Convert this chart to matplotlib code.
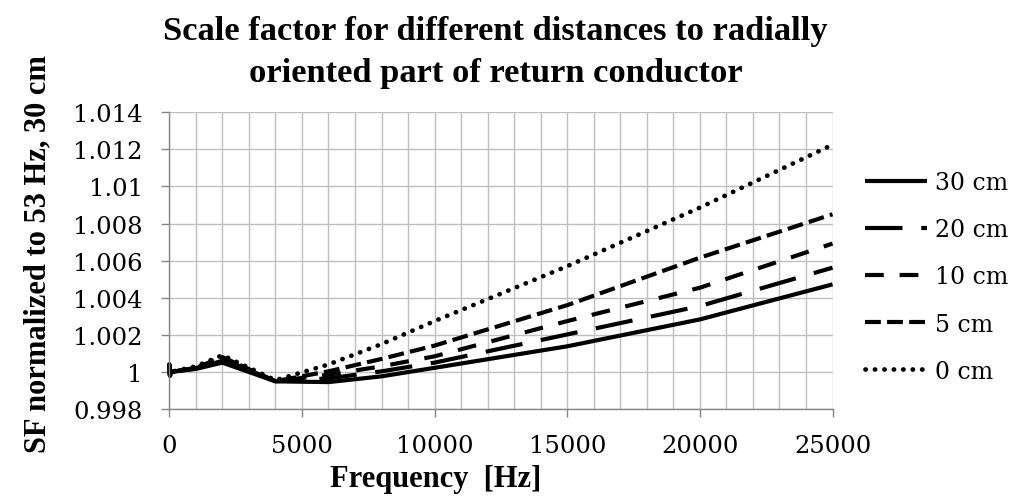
import matplotlib
matplotlib.use("Agg")
import matplotlib.pyplot as plt
from matplotlib.ticker import MultipleLocator, FuncFormatter, FixedLocator

# ---- data ----
freq = [0, 25, 53, 1000, 2000, 4000, 6000, 8000, 10000, 15000, 20000, 25000]
sf_30cm = [1.0004, 0.9998, 1.0, 1.00016, 1.0005, 0.99949, 0.99945, 0.99976, 1.00022, 1.00138, 1.00283, 1.00472]
sf_20cm = [1.0004, 0.9998, 1.0, 1.00018, 1.0006, 0.9995, 0.99965, 1.00003, 1.0005, 1.00202, 1.00355, 1.00562]
sf_10cm = [1.0004, 0.9998, 1.0, 1.0002, 1.0007, 0.9995, 0.99985, 1.0003, 1.00084, 1.00274, 1.00454, 1.00692]
sf_5cm = [1.0004, 0.9998, 1.0, 1.00022, 1.0008, 0.9995, 1.00003, 1.0007, 1.00142, 1.0036, 1.00616, 1.0085]
sf_0cm = [1.0004, 0.9998, 1.0, 1.0003, 1.0009, 0.99955, 1.0004, 1.0015, 1.00274, 1.0057, 1.00886, 1.01225]
series_labels = ["30 cm", "20 cm", "10 cm", "5 cm", "0 cm"]
x_ticks = [0, 5000, 10000, 15000, 20000, 25000]
y_ticks = [0.998, 1.0, 1.002, 1.004, 1.006, 1.008, 1.01, 1.012, 1.014]

title_line1 = "Scale factor for different distances to radially"
title_line2 = "oriented part of return conductor"
x_label = "Frequency  [Hz]"
y_label = "SF normalized to 53 Hz, 30 cm"

# ---- styling ----
tick_font = "DejaVu Serif"
label_font = "Liberation Serif"
grid_col = "#BFBFBF"
axis_col = "#868686"
lw = 3.0
styles = [
    dict(linestyle="-", solid_capstyle="butt", lw=lw),
    dict(linestyle=(0, (9, 4.5)), lw=lw),
    dict(linestyle=(0, (4.5, 3.8)), lw=lw),
    dict(linestyle=(0, (3.8, 1.5)), lw=lw),
    dict(linestyle=(0, (0.05, 1.95)), dash_capstyle="round", lw=3.4),
]

fig = plt.figure(figsize=(10.09, 5.02), dpi=100)
ax = fig.add_axes([0.1678, 0.1833, 0.6573, 0.5910])

all_series = [sf_30cm, sf_20cm, sf_10cm, sf_5cm, sf_0cm]
handles = []
for vals, lab, st in zip(all_series, series_labels, styles):
    h, = ax.plot(freq, vals, color="black", label=lab,
                 solid_joinstyle="round", clip_on=False, **st)
    handles.append(h)

ax.set_xlim(0, 25000)
ax.set_ylim(0.998, 1.014)
ax.xaxis.set_major_locator(FixedLocator(x_ticks))
ax.xaxis.set_minor_locator(MultipleLocator(1000))
ax.yaxis.set_major_locator(FixedLocator(y_ticks))
ax.xaxis.set_major_formatter(FuncFormatter(lambda v, p: f"{int(round(v))}"))
ax.yaxis.set_major_formatter(FuncFormatter(lambda v, p: f"{round(v, 3):g}"))

ax.grid(True, which="major", axis="y", color=grid_col, lw=1.0)
ax.grid(True, which="both", axis="x", color=grid_col, lw=1.0)
ax.set_axisbelow(True)

for s in ["top", "right"]:
    ax.spines[s].set_visible(False)
for s in ["left", "bottom"]:
    ax.spines[s].set_color(axis_col)
    ax.spines[s].set_linewidth(1.0)

ax.tick_params(axis="both", which="major", direction="out", length=6,
               width=1.0, color=axis_col, labelsize=17.5, labelcolor="black")
ax.tick_params(axis="y", which="major", pad=13)
ax.tick_params(axis="x", which="major", pad=12)
ax.tick_params(axis="x", which="minor", length=0)
for t in ax.get_xticklabels() + ax.get_yticklabels():
    t.set_fontfamily(tick_font)

fig.text(0.491, 1 - 40 / 502, title_line1, ha="center", va="baseline",
         fontsize=24.8, fontweight="bold", family=label_font)
fig.text(0.491, 1 - 82 / 502, title_line2, ha="center", va="baseline",
         fontsize=24.8, fontweight="bold", family=label_font)

fig.text(436 / 1009, 1 - 487 / 502, x_label, ha="center", va="baseline",
         fontsize=22, fontweight="bold", family=label_font)
fig.text(45 / 1009, 1 - 254 / 502, y_label, ha="center", va="baseline",
         rotation=90, rotation_mode="anchor",
         fontsize=22, fontweight="bold", family=label_font)

fig.legend(handles=handles, loc="center left", bbox_to_anchor=(865 / 1009, 1 - 278 / 502),
           frameon=False, borderpad=0, borderaxespad=0, handlelength=2.63,
           handletextpad=0.34, labelspacing=1.02,
           prop=dict(family=tick_font, size=17))

fig.savefig("out.png", dpi=100)
